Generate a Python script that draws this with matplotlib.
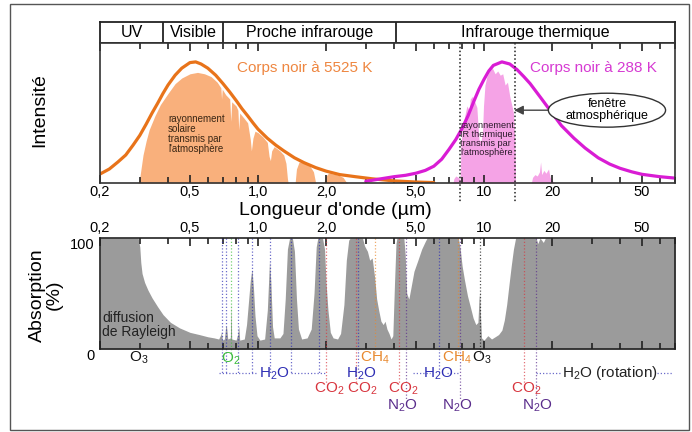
import matplotlib
matplotlib.use("Agg")
import matplotlib.pyplot as plt
from matplotlib.patches import Rectangle
from matplotlib.transforms import blended_transform_factory, ScaledTranslation

plt.rcParams['font.family'] = ['Liberation Sans', 'DejaVu Sans']
plt.rcParams['mathtext.fontset'] = 'custom'
plt.rcParams['mathtext.rm'] = 'Liberation Sans'
plt.rcParams['mathtext.default'] = 'regular'

# --- donnees ---
bandes_noms = ['UV', 'Visible', 'Proche infrarouge', 'Infrarouge thermique']
bandes_bords = [0.2, 0.38, 0.70, 4.1, 70]

ticks_maj = [0.2, 0.5, 1, 2, 5, 10, 20, 50]
ticks_lab = ['0,2', '0,5', '1,0', '2,0', '5,0', '10', '20', '50']
ticks_min = [0.3, 0.4, 0.6, 0.7, 0.8, 0.9, 3, 4, 6, 7, 8, 9, 30, 40, 60, 70]

# corps noir 5525 K (intensite relative)
soleil_wl = [0.20, 0.22, 0.24, 0.26, 0.28, 0.30, 0.32, 0.34, 0.36, 0.38, 0.40, 0.43, 0.46,
             0.50, 0.53, 0.56, 0.60, 0.65, 0.70, 0.75, 0.80, 0.85, 0.90, 0.95, 1.00, 1.10,
             1.20, 1.30, 1.45, 1.60, 1.80, 2.00, 2.30, 2.70, 3.20, 4.00, 5.00, 6.00]
soleil_I = [0.064, 0.10, 0.15, 0.20, 0.27, 0.34, 0.42, 0.50, 0.57, 0.64, 0.70, 0.77, 0.82,
            0.86, 0.865, 0.85, 0.82, 0.77, 0.71, 0.65, 0.59, 0.53, 0.48, 0.43, 0.385, 0.32,
            0.27, 0.23, 0.18, 0.145, 0.11, 0.085, 0.06, 0.045, 0.03, 0.015, 0.007, 0.003]

# rayonnement solaire transmis
transm_sol_wl = [0.295, 0.30, 0.305, 0.31, 0.32, 0.33, 0.35, 0.37, 0.40, 0.43, 0.46, 0.50, 0.54,
                 0.58, 0.62, 0.66, 0.685, 0.69, 0.695, 0.72, 0.75, 0.758, 0.765, 0.80, 0.815,
                 0.822, 0.83, 0.87, 0.90, 0.925, 0.935, 0.95, 0.97, 1.00, 1.05, 1.10, 1.12,
                 1.135, 1.15, 1.18, 1.25, 1.30, 1.33, 1.35, 1.36, 1.46, 1.48, 1.52, 1.60, 1.70,
                 1.76, 1.79, 1.80, 1.96, 1.98, 2.05, 2.15, 2.28, 2.38, 2.45, 2.50]
transm_sol_I = [0.0, 0.04, 0.12, 0.20, 0.30, 0.38, 0.48, 0.56, 0.64, 0.71, 0.75, 0.78, 0.79,
                0.78, 0.76, 0.72, 0.68, 0.60, 0.67, 0.63, 0.60, 0.44, 0.58, 0.55, 0.52,
                0.38, 0.50, 0.46, 0.43, 0.31, 0.23, 0.32, 0.37, 0.36, 0.33, 0.29, 0.19,
                0.16, 0.23, 0.26, 0.23, 0.20, 0.14, 0.03, 0.0, 0.0, 0.10, 0.15, 0.15, 0.12,
                0.08, 0.02, 0.0, 0.0, 0.04, 0.07, 0.065, 0.055, 0.04, 0.01, 0.0]

# corps noir 288 K
terre_wl = [3.0, 3.5, 4.0, 4.5, 5.0, 5.5, 6.0, 6.5, 7.0, 7.5, 8.0, 8.5, 9.0, 9.5, 10.0, 10.5,
            11.0, 12.0, 13.0, 14.0, 15.0, 16.0, 18.0, 20.0, 22.0, 25.0, 28.0, 32.0, 36.0,
            40.0, 45.0, 50.0, 60.0, 70.0]
terre_I = [0.012, 0.03, 0.045, 0.055, 0.07, 0.09, 0.12, 0.17, 0.24, 0.31, 0.39, 0.48, 0.58,
           0.67, 0.74, 0.80, 0.84, 0.865, 0.85, 0.81, 0.76, 0.71, 0.60, 0.50, 0.41, 0.32,
           0.25, 0.18, 0.135, 0.105, 0.08, 0.062, 0.045, 0.035]

# rayonnement IR transmis
transm_ir_wl = [7.3, 7.35, 7.5, 7.7, 7.85, 7.9, 8.0, 8.2, 8.4, 8.6, 8.7, 8.9, 9.1, 9.3, 9.4,
                9.5, 9.7, 9.85, 9.95, 10.1, 10.3, 10.6, 10.9, 11.2, 11.5, 11.8, 12.1, 12.4,
                12.7, 13.0, 13.3, 13.5, 13.7, 13.8, 16.2, 16.4, 16.8, 17.2, 17.6, 17.8, 18.0,
                18.4, 18.8, 19.3, 19.6, 20.0, 20.4]
transm_ir_I = [0.0, 0.03, 0.05, 0.04, 0.02, 0.25, 0.38, 0.47, 0.55, 0.52, 0.60, 0.62, 0.58,
               0.54, 0.42, 0.31, 0.30, 0.36, 0.55, 0.70, 0.76, 0.80, 0.82, 0.78, 0.80, 0.77,
               0.78, 0.70, 0.72, 0.62, 0.55, 0.50, 0.30, 0.0, 0.0, 0.04, 0.06, 0.05, 0.08,
               0.15, 0.06, 0.09, 0.07, 0.10, 0.04, 0.02, 0.0]

# absorption atmospherique (%)
absorp_wl = [0.20, 0.295, 0.30, 0.303, 0.307, 0.315, 0.326, 0.34, 0.36, 0.38, 0.41, 0.45, 0.50,
             0.55, 0.60, 0.64, 0.67, 0.685, 0.69, 0.695, 0.71, 0.72, 0.725, 0.735, 0.755,
             0.76, 0.765, 0.80, 0.815, 0.822, 0.83, 0.87, 0.89, 0.91, 0.925, 0.94, 0.955,
             0.97, 0.99, 1.02, 1.07, 1.10, 1.125, 1.14, 1.16, 1.18, 1.25, 1.29, 1.32, 1.35,
             1.38, 1.42, 1.45, 1.48, 1.51, 1.56, 1.65, 1.72, 1.77, 1.81, 1.84, 1.93, 1.97,
             2.00, 2.04, 2.09, 2.15, 2.25, 2.32, 2.40, 2.46, 2.52, 2.56, 2.90, 2.96, 3.05,
             3.12, 3.20, 3.28, 3.35, 3.42, 3.50, 3.58, 3.65, 3.72, 3.80, 3.88, 3.95, 4.02,
             4.08, 4.12, 4.42, 4.48, 4.55, 4.65, 4.75, 4.90, 5.10, 5.30, 5.50, 5.60, 7.70,
             7.85, 8.0, 8.2, 8.45, 8.7, 8.95, 9.2, 9.4, 9.5, 9.58, 9.65, 9.75, 10.0, 10.4,
             10.8, 11.2, 11.6, 12.0, 12.3, 12.6, 12.9, 13.2, 13.5, 13.8, 17.0, 17.3, 17.7,
             18.3, 18.7, 70.0]
absorp_pct = [100, 100, 92, 78, 68, 60, 53, 46, 38, 31, 24, 19, 15,
              13, 11, 10, 9, 13, 16, 8, 9, 20, 21, 9, 10,
              42, 9, 8, 14, 21, 8, 9, 22, 45, 62, 72, 55,
              30, 12, 8, 9, 35, 80, 60, 20, 10, 10, 14, 45, 90,
              100, 100, 88, 45, 18, 9, 10, 18, 50, 92, 100, 100, 90,
              60, 35, 15, 10, 9, 14, 40, 80, 98, 100, 100, 93, 88,
              80, 82, 65, 45, 35, 25, 22, 25, 18, 14, 9, 12, 60,
              95, 100, 100, 85, 50, 45, 55, 70, 80, 90, 97, 100, 100,
              90, 75, 62, 48, 38, 28, 22, 24, 45, 52, 30, 10, 8, 12,
              9, 11, 13, 17, 26, 40, 58, 75, 90, 100, 100, 95, 100,
              96, 100, 100]

# molecules absorbantes
mol_noms = [r'O$_3$', r'O$_2$', r'H$_2$O', r'CO$_2$', r'CO$_2$', r'CH$_4$', r'H$_2$O',
            r'CO$_2$', r'N$_2$O', r'H$_2$O', r'CH$_4$', r'O$_3$', r'N$_2$O', r'CO$_2$',
            r'N$_2$O']
mol_gaz = ['O3', 'O2', 'H2O', 'CO2', 'CO2', 'CH4', 'H2O', 'CO2', 'N2O', 'H2O', 'CH4', 'O3',
           'N2O', 'CO2', 'N2O']
mol_wl = [0.298, 0.76, 1.18, 2.07, 2.88, 3.3, 2.86, 4.38, 4.35, 6.26, 7.6, 9.75, 7.6, 15.3,
          17.2]
raies_wl = [0.69, 0.72, 0.82, 0.94, 1.13, 1.40, 1.87, 2.78, 6.3,
            2.0, 2.72, 4.22, 15.0,
            3.3, 7.65,
            4.5, 7.8, 17.0,
            0.76, 9.6]
raies_gaz = ['H2O'] * 9 + ['CO2'] * 4 + ['CH4'] * 2 + ['N2O'] * 3 + ['O2', 'O3']

couleurs = {'H2O': '#2e2eb4', 'CO2': '#d8353e', 'N2O': '#5a2d8c', 'CH4': '#e8892f',
            'O2': '#3cbc3c', 'O3': '#111111'}
rangs = {'O3': -0.08, 'O2': -0.09, 'CH4': -0.075, 'H2O': -0.22, 'CO2': -0.36, 'N2O': -0.51}

# --- figure ---
W, H = 692, 432
fig = plt.figure(figsize=(W / 100, H / 100), dpi=100)


def fx(px):
    return px / W


def fy(py):
    return 1 - py / H


def axe_log(ax):
    ax.set_xscale('log')
    ax.set_xlim(0.2, 70)
    ax.set_xticks(ticks_maj)
    ax.set_xticks(ticks_min, minor=True)
    ax.set_xticklabels(ticks_lab)
    ax.tick_params(axis='x', which='both', direction='in', top=True, bottom=True,
                   width=1.2, color='#222222', labelsize=10.5)
    ax.tick_params(axis='x', which='major', length=6)
    ax.tick_params(axis='x', which='minor', length=4, labelbottom=False, labeltop=False)


# bandes spectrales
ax_b = fig.add_axes([fx(100), fy(43), fx(675) - fx(100), fy(22) - fy(43)])
ax_b.set_xscale('log')
ax_b.set_xlim(0.2, 70)
ax_b.set_ylim(0, 1)
ax_b.set_xticks([])
ax_b.set_xticks([], minor=True)
ax_b.set_yticks([])
for i, nom in enumerate(bandes_noms):
    a, b = bandes_bords[i], bandes_bords[i + 1]
    if i > 0:
        ax_b.axvline(a, color='#222222', lw=1.3)
    ax_b.text((a * b) ** 0.5, 0.5, nom, ha='center', va='center', fontsize=11.5)
for s in ax_b.spines.values():
    s.set_color('#222222')
    s.set_linewidth(1.3)

# intensite
ax1 = fig.add_axes([fx(100), fy(183), fx(675) - fx(100), fy(43) - fy(183)])
axe_log(ax1)
ax1.set_ylim(0, 1)
ax1.set_yticks([])
ax1.tick_params(axis='x', which='major', pad=1.5)
ax1.fill_between(transm_sol_wl, transm_sol_I, color='#f9b07c', lw=0)
ax1.fill_between(transm_ir_wl, transm_ir_I, color='#f5a3e6', lw=0)
ax1.plot(soleil_wl, soleil_I, color='#e8731a', lw=2.3, solid_capstyle='round')
ax1.plot(terre_wl, terre_I, color='#d91cd4', lw=2.3, solid_capstyle='round')
for s in ax1.spines.values():
    s.set_color('#333333')
    s.set_linewidth(1.2)
for x in [7.8, 13.7]:
    ax1.plot([x, x], [1.0, -0.136], color='#222222', lw=1.1, ls=(0, (1, 1.5)), clip_on=False)

ax1.text(0.81, 0.82, 'Corps noir à 5525 K', color='#ee8640', fontsize=11, ha='left', va='center')
ax1.text(16.0, 0.82, 'Corps noir à 288 K', color='#d63ad2', fontsize=11, ha='left', va='center')
ax1.text(0.40, 0.49, "rayonnement\nsolaire\ntransmis par\nl'atmosphère", fontsize=7,
         color='#3a2614', ha='left', va='top', linespacing=1.0)
ax1.text(7.85, 0.44, "rayonnement\nIR thermique\ntransmis par\nl'atmosphère", fontsize=6.6,
         color='#2a1a2a', ha='left', va='top', linespacing=1.0)
ax1.annotate('fenêtre\natmosphérique', xy=(13.6, 0.52), xytext=(35, 0.52),
             ha='center', va='center', fontsize=9, linespacing=1.0,
             bbox=dict(boxstyle='ellipse,pad=0.0', fc='white', ec='#333333', lw=1),
             arrowprops=dict(arrowstyle='-|>,head_length=0.6,head_width=0.3', color='#444444',
                             lw=1, shrinkA=0, shrinkB=0))

fig.text(fx(335), fy(210), "Longueur d'onde (µm)", fontsize=14, ha='center', va='center')
fig.text(fx(40), fy(110), 'Intensité', fontsize=14, rotation=90, ha='center', va='center')

# absorption
ax2 = fig.add_axes([fx(100), fy(349), fx(675) - fx(100), fy(238) - fy(349)])
axe_log(ax2)
ax2.tick_params(axis='x', which='major', labeltop=True, labelbottom=False, pad=2)
ax2.set_ylim(0, 100)
ax2.set_yticks([0, 100])
ax2.set_yticklabels(['0', '100'])
ax2.tick_params(axis='y', length=0, labelsize=10.5, pad=4)
for lab in ax2.get_yticklabels():
    lab.set_transform(lab.get_transform() + ScaledTranslation(0, -4 / 72, fig.dpi_scale_trans))
ax2.fill_between(absorp_wl, absorp_pct, color='#9b9b9b', lw=0)
for s in ax2.spines.values():
    s.set_color('#222222')
    s.set_linewidth(1.2)
ax2.text(0.205, 22, 'diffusion\nde Rayleigh', fontsize=10, color='#222222', ha='left',
         va='center', linespacing=1.0)
fig.text(fx(46), fy(295), 'Absorption\n(%)', fontsize=14, rotation=90, ha='center',
         va='center', multialignment='center', linespacing=0.95)

tr = blended_transform_factory(ax2.transData, ax2.transAxes)
fin_raie = {'H2O': -0.22, 'CO2': -0.31, 'N2O': -0.46, 'CH4': -0.04, 'O2': -0.05, 'O3': -0.05}
for x, g in zip(raies_wl, raies_gaz):
    ax2.plot([x, x], [1.0, fin_raie[g]], transform=tr, color=couleurs[g], alpha=0.7,
             lw=0.9, ls=(0, (1, 1.6)), clip_on=False)

for nom, g, x in zip(mol_noms, mol_gaz, mol_wl):
    ax2.text(x, rangs[g], nom, transform=tr, color=couleurs[g], fontsize=11, ha='center',
             va='center', clip_on=False)
ax2.text(22.1, rangs['H2O'], r'H$_2$O (rotation)', transform=tr, color='#222222',
         fontsize=11, ha='left', va='center')
for a, b in [(0.67, 1.0), (1.40, 1.97), (4.85, 5.75), (6.85, 7.7), (17.0, 21.6), (58, 68)]:
    ax2.plot([a, b], [rangs['H2O'], rangs['H2O']], transform=tr, color=couleurs['H2O'],
             alpha=0.7, lw=0.9, ls=(0, (1, 1.6)), clip_on=False)

# cadre general
fig.patches.append(Rectangle((fx(10), fy(430)), fx(689) - fx(10), fy(4) - fy(430),
                             transform=fig.transFigure, fill=False, ec='#555555', lw=1))

fig.savefig('out.png', dpi=100)
